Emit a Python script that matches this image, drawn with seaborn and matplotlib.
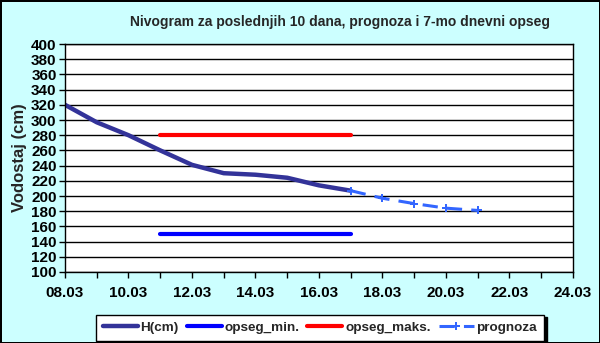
import numpy as np
import pandas as pd
import matplotlib
matplotlib.use("Agg")
import matplotlib.pyplot as plt
import matplotlib.dates as mdates
import seaborn as sns

# ── Data ──────────────────────────────────────────────────────────────────────
h_dates  = ["08.03", "09.03", "10.03", "11.03", "12.03", "13.03", "14.03", "15.03", "16.03", "17.03"]
h_values = [320, 297, 280, 260, 241, 230, 228, 224, 214, 207]

prog_dates  = ["17.03", "18.03", "19.03", "20.03", "21.03"]
prog_values = [207, 197, 190, 184, 181]

range_dates = ["11.03", "17.03"]
range_min   = [150, 150]
range_max   = [280, 280]

tick_labels = ["08.03", "10.03", "12.03", "14.03", "16.03", "18.03", "20.03", "22.03", "24.03"]
YEAR = "2024"


def to_dt(lst):
    return pd.to_datetime([f"{d}.{YEAR}" for d in lst], format="%d.%m.%Y")


df_h     = pd.DataFrame({"date": to_dt(h_dates), "val": h_values})
df_prog  = pd.DataFrame({"date": to_dt(prog_dates), "val": prog_values})
df_min   = pd.DataFrame({"date": to_dt(range_dates), "val": range_min})
df_max   = pd.DataFrame({"date": to_dt(range_dates), "val": range_max})

# ── Style ─────────────────────────────────────────────────────────────────────
sns.set_style("white")
plt.rcParams["font.family"] = ["Liberation Sans", "DejaVu Sans"]
BG = "#ccffff"

fig = plt.figure(figsize=(6.0, 3.43), dpi=100, facecolor=BG)
fig.patch.set_edgecolor("black")
fig.patch.set_linewidth(2)
ax = fig.add_axes([0.1083, 0.207, 0.8467, 0.6647])
ax.set_facecolor("white")

sns.lineplot(data=df_h, x="date", y="val", ax=ax, color="#333399", lw=3.2,
             label="H(cm)")
sns.lineplot(data=df_min, x="date", y="val", ax=ax, color="#0000ff", lw=3,
             label="opseg_min.")
sns.lineplot(data=df_max, x="date", y="val", ax=ax, color="#ff0000", lw=3,
             label="opseg_maks.")
sns.lineplot(data=df_prog, x="date", y="val", ax=ax, color="#3366ff", lw=2.2,
             marker="P", markersize=6, markeredgewidth=0, label="prognoza")
ax.lines[-1].set_dashes([5, 3])

# ── Axes ──────────────────────────────────────────────────────────────────────
ticks = to_dt(tick_labels)
ax.set_xlim(ticks[0], ticks[-1])
ax.set_xticks(ticks)
ax.set_xticklabels(tick_labels)
ax.xaxis.set_minor_locator(mdates.DayLocator())
ax.set_ylim(100, 400)
ax.set_yticks(np.arange(100, 401, 20))
ax.grid(axis="y", color="black", lw=1)
ax.set_axisbelow(True)
for s in ax.spines.values():
    s.set_color("black")
    s.set_linewidth(1)
ax.tick_params(axis="both", which="both", direction="out", colors="black",
               labelsize=11, length=4, width=1)
ax.tick_params(axis="x", which="major", pad=6)
ax.tick_params(axis="y", which="major", pad=2)
ax.tick_params(axis="x", which="minor", length=4, bottom=True)
ax.tick_params(left=True, bottom=True)
for lbl in ax.get_xticklabels() + ax.get_yticklabels():
    lbl.set_fontweight("bold")

ax.set_xlabel("")
ax.set_ylabel("Vodostaj (cm)", fontsize=12, fontweight="bold", labelpad=3)
fig.text(0.567, 0.935, "Nivogram za poslednjih 10 dana, prognoza i 7-mo dnevni opseg",
         ha="center", va="center", fontsize=10, fontweight="bold")

handles, labels = ax.get_legend_handles_labels()
ax.legend_.remove()
leg = fig.legend(handles, labels, loc="center", bbox_to_anchor=(0.533, 0.045),
                 ncol=4, frameon=True, fancybox=False,
                 handlelength=2.6, columnspacing=0.6, handletextpad=0.2,
                 borderpad=0.5, prop={"weight": "bold", "size": 9.7},
                 shadow={"color": "black", "alpha": 1.0})
leg.get_frame().set_edgecolor("black")
leg.get_frame().set_linewidth(1)

fig.savefig("out.png", dpi=100, facecolor=BG, edgecolor="black")
